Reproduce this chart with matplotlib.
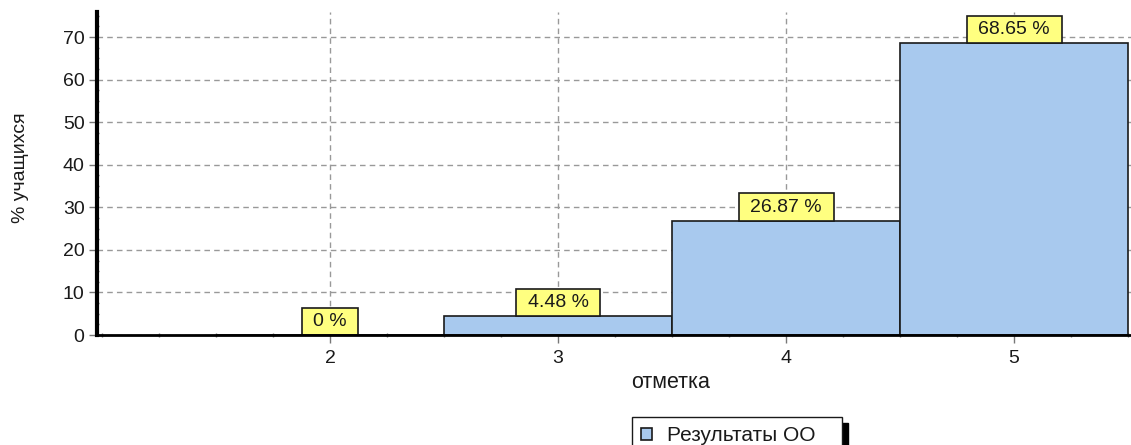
import matplotlib.pyplot as plt
from matplotlib.ticker import MultipleLocator
from matplotlib.patches import Patch
from matplotlib.path import Path

# data
marks = [2, 3, 4, 5]
percent = [0.0, 4.48, 26.87, 68.65]
labels = ["0 %", "4.48 %", "26.87 %", "68.65 %"]
series_name = "Результаты ОО"

plt.rcParams['font.family'] = ['Liberation Sans', 'DejaVu Sans']

bar_color = "#A8C9EE"
box_color = "#FFFF80"
text_color = "#1a1a1a"


# label box: wider than tall, fixed height relative to font size
def label_box(x0, y0, width, height, mutation_size):
    padx = 0.6 * mutation_size
    h = 1.4 * mutation_size
    cy = y0 + height / 2
    x0, x1 = x0 - padx, x0 + width + padx
    y0, y1 = cy - h / 2, cy + h / 2
    return Path([(x0, y0), (x1, y0), (x1, y1), (x0, y1), (x0, y0)],
                closed=True)


fig = plt.figure(figsize=(11.31, 4.45), dpi=100)
ax = fig.add_axes([97 / 1131, 1 - 335 / 445, 1 - 97 / 1131, (335 - 12) / 445])

ax.bar(marks, percent, width=1.0, color=bar_color, edgecolor=text_color,
       linewidth=1.2, zorder=3)

for x, y, txt in zip(marks, percent, labels):
    ax.annotate(txt, (x, y), xytext=(0, 0.7 * 14), textcoords="offset points",
                ha="center", va="center", fontsize=14, color=text_color,
                zorder=5,
                bbox=dict(boxstyle=label_box, fc=box_color,
                          ec=text_color, lw=1.2))

ax.set_xlim(0.978, 5.513)
ax.set_ylim(0, 75.9)
ax.set_xticks(marks)
ax.xaxis.set_minor_locator(MultipleLocator(0.25))
ax.yaxis.set_major_locator(MultipleLocator(10))
ax.yaxis.set_minor_locator(MultipleLocator(2.5))

ax.grid(True, which="major", color="#999999", linestyle=(0, (4, 3)),
        linewidth=1, zorder=1)

for s in ["top", "right"]:
    ax.spines[s].set_visible(False)
ax.spines["left"].set_linewidth(3)
ax.spines["bottom"].set_linewidth(2)
ax.spines["left"].set_zorder(6)
ax.spines["bottom"].set_zorder(6)

ax.tick_params(axis="both", which="major", labelsize=14, labelcolor=text_color,
               color="#777777", length=6, width=1)
ax.tick_params(axis="both", which="minor", color="#777777", length=3,
               width=1, direction="inout")
ax.tick_params(axis="x", which="major", pad=5)
ax.tick_params(axis="y", which="major", pad=3)

ax.set_ylabel("% учащихся", fontsize=14, color=text_color)
ax.yaxis.set_label_coords(-(97 - 29) / 1034, 0.518)
ax.set_xlabel("отметка", fontsize=15.5, color=text_color)
ax.xaxis.set_label_coords((671 - 97) / (1131 - 97), -(372 - 335) / 323)

handle = Patch(facecolor=bar_color, edgecolor=text_color, linewidth=1.2)
fig.legend([handle], [series_name], loc="upper left", mode="expand",
           bbox_to_anchor=(632 / 1131, 1 - 417 / 445, 210 / 1131, 0),
           fontsize=15, labelcolor=text_color, frameon=True, fancybox=False,
           edgecolor=text_color,
           shadow={"color": "black", "alpha": 1, "ox": 4.5, "oy": -4.5},
           handlelength=0.5, handleheight=0.5, handletextpad=0.75,
           borderpad=0.45, borderaxespad=0)

fig.savefig("out.png", dpi=100)
